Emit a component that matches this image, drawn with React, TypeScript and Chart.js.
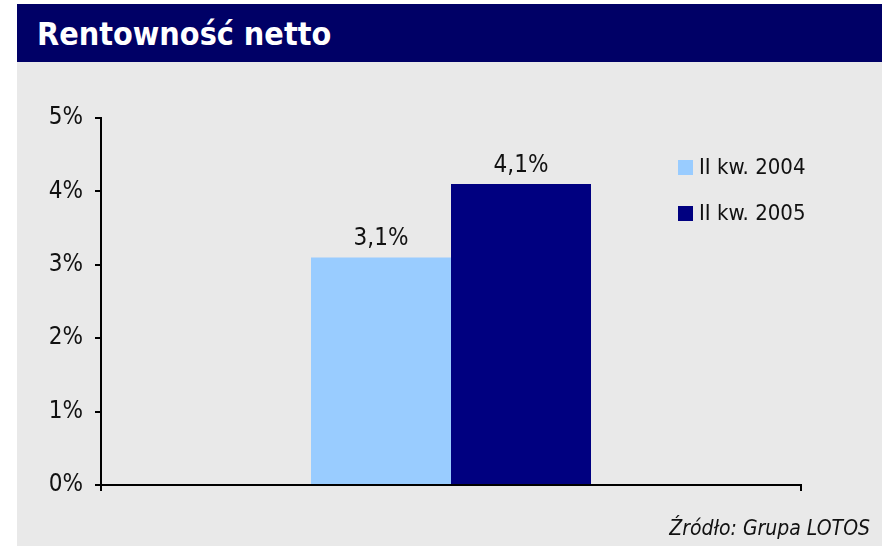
import React, { useEffect, useRef } from "react";
import { Chart, registerables } from "chart.js";

Chart.register(...registerables);

const categories = [""];
const seriesLabels = ["II kw. 2004", "II kw. 2005"];
const values2004 = [3.1];
const values2005 = [4.1];
const seriesColors = ["#99CCFF", "#000080"];
const yMin = 0;
const yMax = 5;
const yStep = 1;
const titleText = "Rentowność netto";
const sourceText = "Źródło: Grupa LOTOS";

const FONT = '"DejaVu Sans Condensed", "DejaVu Sans", sans-serif';

const fmt = (v: number) => v.toFixed(1).replace(".", ",") + "%";

const valueLabels = {
  id: "valueLabels",
  afterDatasetsDraw(chart: any) {
    const ctx = chart.ctx;
    ctx.save();
    ctx.font = `24px ${FONT}`;
    ctx.fillStyle = "#111";
    ctx.textAlign = "center";
    ctx.textBaseline = "alphabetic";
    chart.data.datasets.forEach((ds: any, i: number) => {
      const meta = chart.getDatasetMeta(i);
      meta.data.forEach((bar: any, j: number) => {
        ctx.fillText(fmt(ds.data[j]), bar.x, bar.y - 12);
      });
    });
    ctx.restore();
  },
};

const sideLegend = {
  id: "sideLegend",
  afterDraw(chart: any) {
    const ctx = chart.ctx;
    ctx.save();
    ctx.font = `22px ${FONT}`;
    ctx.textBaseline = "middle";
    ctx.textAlign = "left";
    chart.data.datasets.forEach((ds: any, i: number) => {
      const bx = 661;
      const by = 98 + i * 46;
      ctx.fillStyle = ds.backgroundColor;
      ctx.fillRect(bx, by, 15, 15);
      ctx.fillStyle = "#111";
      ctx.fillText(ds.label, bx + 21, by + 8);
    });
    ctx.restore();
  },
};

export default function App() {
  const ref = useRef<HTMLCanvasElement | null>(null);

  useEffect(() => {
    if (!ref.current) return;
    const chart = new Chart(ref.current, {
      type: "bar",
      data: {
        labels: categories,
        datasets: [
          {
            label: seriesLabels[0],
            data: values2004,
            backgroundColor: seriesColors[0],
            categoryPercentage: 0.4,
            barPercentage: 1.0,
          },
          {
            label: seriesLabels[1],
            data: values2005,
            backgroundColor: seriesColors[1],
            categoryPercentage: 0.4,
            barPercentage: 1.0,
          },
        ],
      },
      options: {
        animation: false,
        responsive: false,
        events: [],
        layout: { padding: { top: 56, right: 81, bottom: 0, left: 0 } },
        plugins: {
          legend: { display: false },
          tooltip: { enabled: false },
          title: { display: false },
        },
        scales: {
          x: {
            offset: true,
            grid: {
              offset: true,
              drawOnChartArea: false,
              drawTicks: true,
              tickLength: 6,
              color: "#000",
              lineWidth: 2,
            },
            border: { display: true, color: "#000", width: 2 },
            ticks: { display: true, font: { family: FONT, size: 20 } },
            afterFit: (scale: any) => {
              scale.height = 61;
            },
          },
          y: {
            min: yMin,
            max: yMax,
            grid: {
              drawOnChartArea: false,
              drawTicks: true,
              tickLength: 6,
              color: "#000",
              lineWidth: 2,
            },
            border: { display: true, color: "#000", width: 2 },
            ticks: {
              stepSize: yStep,
              padding: 12,
              color: "#111",
              font: { family: FONT, size: 24 },
              callback: (v: any) => v + "%",
            },
            afterFit: (scale: any) => {
              scale.width = 84;
            },
          },
        },
      },
      plugins: [valueLabels, sideLegend],
    });
    return () => chart.destroy();
  }, []);

  return (
    <div
      style={{
        position: "absolute",
        left: 0,
        top: 0,
        width: 882,
        height: 546,
        background: "#fff",
        overflow: "hidden",
      }}
    >
      <div
        style={{
          position: "absolute",
          left: 17,
          top: 4,
          width: 865,
          height: 58,
          background: "#000066",
        }}
      >
        <div
          style={{
            position: "absolute",
            left: 20,
            top: 12,
            color: "#fff",
            fontFamily: FONT,
            fontWeight: "bold",
            fontSize: 32,
            lineHeight: "36px",
            whiteSpace: "nowrap",
          }}
        >
          {titleText}
        </div>
      </div>
      <div
        style={{
          position: "absolute",
          left: 17,
          top: 62,
          width: 865,
          height: 484,
          background: "#E9E9E9",
        }}
      >
        <canvas ref={ref} width={865} height={484} style={{ display: "block" }} />
        <div
          style={{
            position: "absolute",
            right: 12,
            top: 452,
            color: "#111",
            fontFamily: FONT,
            fontStyle: "italic",
            fontSize: 21,
            lineHeight: "28px",
            whiteSpace: "nowrap",
          }}
        >
          {sourceText}
        </div>
      </div>
    </div>
  );
}
